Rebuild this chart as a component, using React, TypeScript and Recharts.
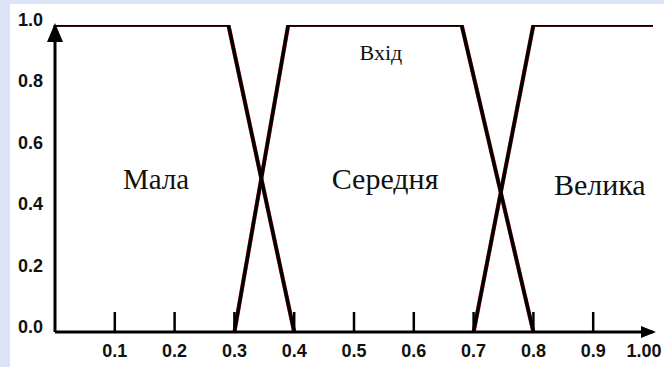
import { LineChart, Line, XAxis, YAxis, ReferenceDot } from "recharts";

// функції належності: Мала / Середня / Велика
const malaX = [0, 0.29, 0.4];
const malaY = [1, 1, 0];
const serX = [0.3, 0.39, 0.68, 0.8];
const serY = [0, 1, 1, 0];
const velX = [0.7, 0.8, 1.0];
const velY = [0, 1, 1];

const xTicks = [0.1, 0.2, 0.3, 0.4, 0.5, 0.6, 0.7, 0.8, 0.9, 1.0];
const xTickLabels = ["0.1", "0.2", "0.3", "0.4", "0.5", "0.6", "0.7", "0.8", "0.9", "1.00"];
const yTicks = [0, 0.2, 0.4, 0.6, 0.8, 1.0];
const yTickLabels = ["0.0", "0.2", "0.4", "0.6", "0.8", "1.0"];

const toPoints = (xs: number[], ys: number[]) => xs.map((x, i) => ({ x, y: ys[i] }));
const mala = toPoints(malaX, malaY);
const serednya = toPoints(serX, serY);
const velyka = toPoints(velX, velY);

const SANS = "'Liberation Sans', Arial, sans-serif";
const SERIF = "'Liberation Serif', 'Times New Roman', serif";

function XTick({ x, y, payload }: any) {
  const i = xTicks.indexOf(payload.value);
  const last = payload.value === 1;
  return (
    <g>
      {!last && <line x1={x} x2={x} y1={y - 20} y2={y} stroke="#000" strokeWidth={2.5} />}
      <text x={last ? x - 9 : x} y={y + 25} textAnchor="middle" fontFamily={SANS} fontWeight="bold" fontSize={18} fill="#111">
        {xTickLabels[i]}
      </text>
    </g>
  );
}

function YTick({ x, y, payload }: any) {
  const i = yTicks.indexOf(payload.value);
  return (
    <text x={x - 12} y={y + 1} textAnchor="end" fontFamily={SANS} fontWeight="bold" fontSize={18} fill="#111">
      {yTickLabels[i]}
    </text>
  );
}

const word = (text: string, size: number) => (p: any) => (
  <text x={p.cx} y={p.cy} textAnchor="middle" fontFamily={SERIF} fontSize={size} fill="#111">
    {text}
  </text>
);

const arrowRight = (p: any) => (
  <polygon points={`${p.cx + 3},${p.cy} ${p.cx - 12},${p.cy - 6} ${p.cx - 12},${p.cy + 6}`} fill="#000" />
);
const arrowUp = (p: any) => (
  <polygon points={`${p.cx},${p.cy - 2} ${p.cx - 8},${p.cy + 17} ${p.cx + 8},${p.cy + 17}`} fill="#000" />
);

export default function App() {
  const lines = [
    { key: "mala", data: mala },
    { key: "ser", data: serednya },
    { key: "vel", data: velyka },
  ];
  return (
    <div style={{ position: "absolute", left: 0, top: 0, width: 664, height: 367, background: "#dce5f8" }}>
      <div style={{ position: "absolute", left: 10, top: 4, width: 654, height: 363, background: "#fff" }} />
      <div style={{ position: "absolute", left: 0, top: 0 }}>
        <LineChart width={664} height={367} margin={{ top: 25, right: 11, left: 10, bottom: 0 }}>
          <XAxis
            type="number"
            dataKey="x"
            domain={[0, 1]}
            ticks={xTicks}
            interval={0}
            height={35}
            tickSize={0}
            tickMargin={0}
            tickLine={false}
            axisLine={{ stroke: "#000", strokeWidth: 3 }}
            tick={<XTick />}
            allowDataOverflow
          />
          <YAxis
            type="number"
            domain={[0, 1]}
            ticks={yTicks}
            interval={0}
            width={45}
            tickSize={0}
            tickMargin={0}
            tickLine={false}
            axisLine={{ stroke: "#000", strokeWidth: 3 }}
            tick={<YTick />}
            allowDataOverflow
          />
          {lines.map((l) => (
            <Line
              key={l.key + "-edge"}
              data={l.data}
              dataKey="y"
              type="linear"
              stroke="#e04040"
              strokeWidth={4.2}
              dot={false}
              activeDot={false}
              isAnimationActive={false}
            />
          ))}
          {lines.map((l) => (
            <Line
              key={l.key}
              data={l.data}
              dataKey="y"
              type="linear"
              stroke="#000"
              strokeWidth={3.6}
              dot={false}
              activeDot={false}
              isAnimationActive={false}
            />
          ))}
          <ReferenceDot x={1} y={0} shape={arrowRight} ifOverflow="visible" />
          <ReferenceDot x={0} y={1} shape={arrowUp} ifOverflow="visible" />
          <ReferenceDot x={0.169} y={0.466} shape={word("Мала", 29)} ifOverflow="visible" />
          <ReferenceDot x={0.552} y={0.466} shape={word("Середня", 30)} ifOverflow="visible" />
          <ReferenceDot x={0.911} y={0.446} shape={word("Велика", 30)} ifOverflow="visible" />
          <ReferenceDot x={0.545} y={0.886} shape={word("Вхід", 22)} ifOverflow="visible" />
        </LineChart>
      </div>
    </div>
  );
}
